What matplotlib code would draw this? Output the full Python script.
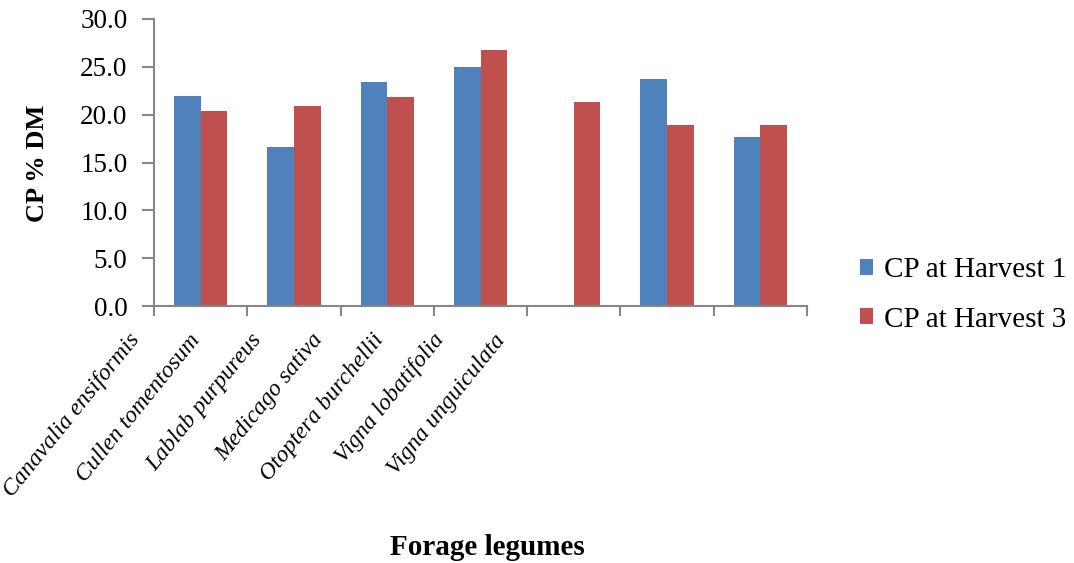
import matplotlib
matplotlib.use("Agg")
import matplotlib.pyplot as plt
import numpy as np

species = [
    "Canavalia ensiformis",
    "Cullen tomentosum",
    "Lablab purpureus",
    "Medicago sativa",
    "Otoptera burchellii",
    "Vigna lobatifolia",
    "Vigna unguiculata",
]
harvest1 = [22.0, 16.6, 23.4, 25.0, np.nan, 23.7, 17.7]
harvest3 = [20.4, 20.9, 21.8, 26.8, 21.3, 18.9, 18.9]
series_names = ["CP at Harvest 1", "CP at Harvest 3"]
yticks = [0, 5, 10, 15, 20, 25, 30]

W, H = 1074, 563
plt.rcParams["font.family"] = ["Liberation Serif", "DejaVu Serif"]

fig = plt.figure(figsize=(W / 100, H / 100), dpi=100)
ax = fig.add_axes([154 / W, 1 - 306 / H, (807 - 154) / W, (306 - 19) / H])

x = np.arange(len(species))
bw = 0.286
ax.bar(x - bw / 2, harvest1, bw, color="#4F81BD", label=series_names[0])
ax.bar(x + bw / 2, harvest3, bw, color="#C0504D", label=series_names[1])

ax.set_xlim(-0.5, len(species) - 0.5)
ax.set_ylim(0, 30)
ax.set_yticks(yticks)
ax.set_yticklabels([f"{v:.1f}" for v in yticks], fontsize=19.5)
ax.set_xticks([])
ax.set_xticks(np.arange(-0.5, len(species)), minor=True)
ax.tick_params(axis="x", which="minor", length=7, width=1.5, color="#868686")
ax.tick_params(axis="y", length=9, width=1.5, color="#868686", pad=10)

for s in ["top", "right"]:
    ax.spines[s].set_visible(False)
for s in ["left", "bottom"]:
    ax.spines[s].set_color("#868686")
    ax.spines[s].set_linewidth(1.5)

# rotated category labels (baseline end positions in pixels)
lab_x0, lab_step, lab_y = 140, 61, 340
for i, name in enumerate(species):
    fig.text((lab_x0 + lab_step * i) / W, 1 - lab_y / H, name,
             rotation=51, rotation_mode="anchor", ha="right", va="baseline",
             fontsize=17, style="italic")

fig.text(37 / W, 1 - 163 / H, "CP % DM", rotation=90, ha="center", va="center",
         fontsize=19, fontweight="bold")
fig.text(487 / W, 1 - 555 / H, "Forage legumes", ha="center", va="baseline",
         fontsize=21, fontweight="bold")

fig.legend(loc="center left", bbox_to_anchor=(845 / W, 1 - 295 / H),
           frameon=False, fontsize=21, handlelength=0.45, handleheight=0.45,
           handletextpad=0.4, labelspacing=0.8, borderpad=0)

fig.savefig("out.png", dpi=100)
